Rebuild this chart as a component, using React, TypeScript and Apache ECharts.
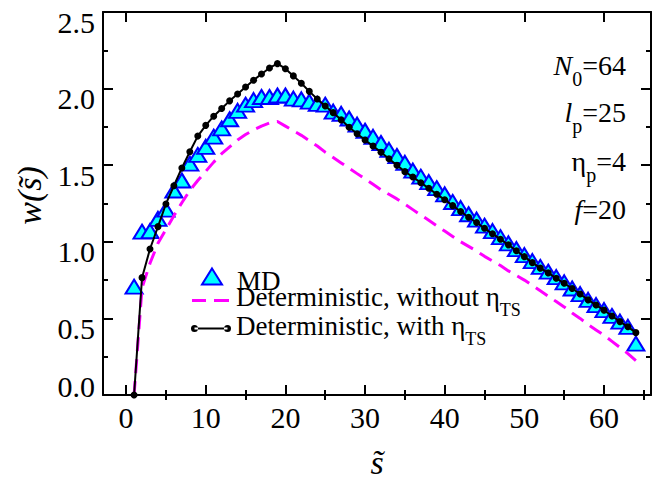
import React, { useEffect, useRef } from "react";
import * as echarts from "echarts";

const FONT = "Liberation Serif, Times New Roman, serif";

// s (x values)
const S = [
  1, 2, 3, 4, 5, 6, 7, 8, 9, 10, 11, 12, 13, 14, 15, 16, 17, 18, 19, 20,
  21, 22, 23, 24, 25, 26, 27, 28, 29, 30, 31, 32, 33, 34, 35, 36, 37, 38, 39, 40,
  41, 42, 43, 44, 45, 46, 47, 48, 49, 50, 51, 52, 53, 54, 55, 56, 57, 58, 59, 60,
  61, 62, 63, 64,
];

// MD (triangles)
const MD = [
  0.707, 1.066, 1.07, 1.15, 1.21, 1.335, 1.4, 1.51, 1.567, 1.62,
  1.686, 1.74, 1.8, 1.855, 1.895, 1.925, 1.945, 1.945, 1.955, 1.955,
  1.935, 1.93, 1.915, 1.9, 1.895, 1.85, 1.835, 1.805, 1.765, 1.725,
  1.685, 1.645, 1.6, 1.56, 1.515, 1.465, 1.425, 1.39, 1.35, 1.31,
  1.26, 1.22, 1.18, 1.145, 1.105, 1.07, 1.03, 0.99, 0.952, 0.913,
  0.874, 0.836, 0.805, 0.77, 0.735, 0.695, 0.659, 0.621, 0.587, 0.554,
  0.516, 0.479, 0.445, 0.335,
];

// Deterministic, without eta_TS (magenta dashed)
const DET_NO = [
  0, 0.7, 0.86, 0.99, 1.08, 1.17, 1.255, 1.335, 1.4, 1.46,
  1.52, 1.575, 1.62, 1.665, 1.7, 1.73, 1.755, 1.775, 1.785, 1.755,
  1.725, 1.695, 1.66, 1.625, 1.585, 1.55, 1.515, 1.48, 1.445, 1.41,
  1.375, 1.34, 1.31, 1.28, 1.245, 1.21, 1.175, 1.14, 1.105, 1.07,
  1.035, 1.0, 0.97, 0.94, 0.905, 0.875, 0.845, 0.81, 0.78, 0.75,
  0.715, 0.68, 0.645, 0.61, 0.575, 0.535, 0.5, 0.46, 0.425, 0.39,
  0.35, 0.31, 0.27, 0.225,
];

// Deterministic, with eta_TS (black line + dots)
const DET_TS = [
  0, 0.766, 0.953, 1.099, 1.247, 1.366, 1.482, 1.588, 1.69, 1.76,
  1.82, 1.87, 1.92, 1.965, 2.01, 2.055, 2.095, 2.135, 2.163, 2.13,
  2.083, 2.035, 1.982, 1.932, 1.886, 1.843, 1.796, 1.748, 1.705, 1.664,
  1.625, 1.584, 1.542, 1.5, 1.458, 1.423, 1.386, 1.349, 1.31, 1.275,
  1.236, 1.198, 1.16, 1.126, 1.088, 1.052, 1.017, 0.98, 0.942, 0.903,
  0.864, 0.828, 0.797, 0.762, 0.729, 0.695, 0.659, 0.621, 0.587, 0.554,
  0.516, 0.479, 0.445, 0.407,
];

const X_MAJOR = [0, 10, 20, 30, 40, 50, 60];
const X_MINOR = [5, 15, 25, 35, 45, 55, 65];

const NAME_MD = "MD";
const NAME_NO = "Deterministic, without \u03b7TS";
const NAME_TS = "Deterministic, with \u03b7TS";

const LEGEND_LABELS: Record<string, string> = {
  [NAME_MD]: "MD",
  [NAME_NO]: "Deterministic, without \u03b7{sub|TS}",
  [NAME_TS]: "Deterministic, with \u03b7{sub|TS}",
};

const X_MIN = -2.9;
const X_MAX = 65.9;
const TICK_FONT = 30;

export default function App() {
  const ref = useRef<HTMLDivElement>(null);

  useEffect(() => {
    if (!ref.current) return;
    const chart = echarts.init(ref.current, null, { renderer: "svg" });

    const pair = (ys: number[]) => S.map((s, i) => [s, ys[i]]);
    const black = "#000";

    const xCommon = {
      type: "value",
      min: X_MIN,
      max: X_MAX,
      splitLine: { show: false },
      axisLine: { show: true, onZero: false, lineStyle: { color: black, width: 2 } },
    };

    const legendText = {
      fontFamily: FONT,
      fontSize: 27,
      color: black,
      rich: {
        sub: { fontFamily: FONT, fontSize: 18, color: black, padding: [26, 0, 0, 0] },
      },
    };

    const annRich = {
      i: { fontFamily: FONT, fontSize: 28, fontStyle: "italic", color: black },
      n: { fontFamily: FONT, fontSize: 28, color: black },
      sub: { fontFamily: FONT, fontSize: 20, padding: [28, 0, 0, 0], color: black },
    };

    const ann = (text: string, y: number) => ({
      type: "text",
      x: 626,
      y,
      style: {
        text,
        align: "right",
        verticalAlign: "middle",
        fill: black,
        fontFamily: FONT,
        fontSize: 28,
        rich: annRich,
      },
    });

    const option: any = {
      animation: false,
      backgroundColor: "#fff",
      textStyle: { fontFamily: FONT },
      grid: { left: 103, top: 12, right: 3, bottom: 96, containLabel: false },
      xAxis: [
        {
          ...xCommon,
          position: "bottom",
          axisTick: {
            show: true,
            inside: true,
            length: 10,
            customValues: X_MAJOR,
            lineStyle: { color: black, width: 2 },
          },
          axisLabel: {
            customValues: X_MAJOR,
            fontFamily: FONT,
            fontSize: TICK_FONT,
            color: black,
            margin: 7,
          },
          name: "s\u0303",
          nameLocation: "middle",
          nameGap: 50,
          nameTextStyle: {
            fontFamily: FONT,
            fontSize: 34,
            fontStyle: "italic",
            color: black,
          },
        },
        {
          ...xCommon,
          position: "bottom",
          axisLine: { show: false },
          axisTick: {
            show: true,
            inside: true,
            length: 5,
            customValues: X_MINOR,
            lineStyle: { color: black, width: 2 },
          },
          axisLabel: { show: false },
        },
        {
          ...xCommon,
          position: "top",
          axisTick: {
            show: true,
            inside: true,
            length: 10,
            customValues: X_MAJOR,
            lineStyle: { color: black, width: 2 },
          },
          axisLabel: { show: false },
        },
        {
          ...xCommon,
          position: "top",
          axisLine: { show: false },
          axisTick: {
            show: true,
            inside: true,
            length: 5,
            customValues: X_MINOR,
            lineStyle: { color: black, width: 2 },
          },
          axisLabel: { show: false },
        },
      ],
      yAxis: [
        {
          type: "value",
          position: "left",
          min: 0,
          max: 2.5,
          interval: 0.5,
          splitLine: { show: false },
          axisLine: { show: true, onZero: false, lineStyle: { color: black, width: 2 } },
          axisTick: { show: true, inside: true, length: 10, lineStyle: { color: black, width: 2 } },
          minorTick: { show: true, splitNumber: 2, length: 5, lineStyle: { color: black, width: 2 } },
          axisLabel: {
            margin: 8,
            fontFamily: FONT,
            fontSize: TICK_FONT,
            color: black,
            formatter: (v: number) =>
              v === 0 ? `{z|${v.toFixed(1)}}` : `{n|${v.toFixed(1)}}`,
            rich: {
              z: { fontFamily: FONT, fontSize: TICK_FONT, color: black, padding: [0, 0, 18, 0] },
              n: { fontFamily: FONT, fontSize: TICK_FONT, color: black, padding: [20, 0, 0, 0] },
            },
          },
          name: "w(s\u0303)",
          nameLocation: "middle",
          nameGap: 54,
          nameTextStyle: {
            fontFamily: FONT,
            fontSize: 34,
            fontStyle: "italic",
            color: black,
            padding: [0, 0, 0, 16],
          },
        },
        {
          type: "value",
          position: "right",
          min: 0,
          max: 2.5,
          interval: 0.5,
          splitLine: { show: false },
          axisLine: { show: true, onZero: false, lineStyle: { color: black, width: 2 } },
          axisTick: { show: true, inside: true, length: 10, lineStyle: { color: black, width: 2 } },
          minorTick: { show: true, splitNumber: 2, length: 5, lineStyle: { color: black, width: 2 } },
          axisLabel: { show: false },
        },
      ],
      legend: [
        {
          data: [
            {
              name: NAME_MD,
              icon:
                "path://M20,0 L30,16 L10,16 Z M0,24 L0,24 Z M40,24 L40,24 Z M0,0 L0,0 Z",
            },
          ],
          orient: "vertical",
          left: 191,
          top: 267,
          padding: 0,
          itemWidth: 40,
          itemHeight: 24,
          selectedMode: false,
          formatter: (n: string) => LEGEND_LABELS[n],
          textStyle: legendText,
        },
        {
          data: [
            {
              name: NAME_NO,
              icon:
                "path://M0,-8 L0,-8 Z M40,-8 L40,-8 Z M1,0 L15,0 L15,3 L1,3 Z M23,0 L38,0 L38,3 L23,3 Z",
            },
          ],
          orient: "vertical",
          left: 191,
          top: 283,
          padding: 0,
          itemWidth: 40,
          itemHeight: 11,
          selectedMode: false,
          itemStyle: { borderWidth: 0 },
          formatter: (n: string) => LEGEND_LABELS[n],
          textStyle: legendText,
        },
        {
          data: [
            {
              name: NAME_TS,
              icon:
                "path://M0,-5.5 L0,-5.5 Z M3.5,3 L36.5,3 L36.5,5 L3.5,5 Z M0,4 A3.5,3.5 0 1,0 7,4 A3.5,3.5 0 1,0 0,4 Z M33,4 A3.5,3.5 0 1,0 40,4 A3.5,3.5 0 1,0 33,4 Z",
            },
          ],
          orient: "vertical",
          left: 191,
          top: 312,
          padding: 0,
          itemWidth: 40,
          itemHeight: 13,
          selectedMode: false,
          itemStyle: { borderWidth: 0 },
          formatter: (n: string) => LEGEND_LABELS[n],
          textStyle: legendText,
        },
      ],
      graphic: [
        ann("{i|N}{sub|0}{n|=64}", 65),
        ann("{i|l}{sub|p}{n|=25}", 112),
        ann("{n|\u03b7}{sub|p}{n|=4}", 161),
        ann("{i|f}{n|=20}", 209),
      ],
      series: [
        {
          name: NAME_MD,
          type: "scatter",
          xAxisIndex: 0,
          yAxisIndex: 0,
          data: pair(MD),
          symbol: "triangle",
          symbolSize: [17, 14],
          itemStyle: { color: "#00ffff", borderColor: "#0000ff", borderWidth: 2, opacity: 1 },
          z: 2,
        },
        {
          name: NAME_NO,
          type: "line",
          xAxisIndex: 0,
          yAxisIndex: 0,
          data: pair(DET_NO),
          symbol: "none",
          lineStyle: { color: "#ff00ff", width: 3, type: [14, 8] },
          itemStyle: { color: "#ff00ff" },
          z: 3,
        },
        {
          name: NAME_TS,
          type: "line",
          xAxisIndex: 0,
          yAxisIndex: 0,
          data: pair(DET_TS),
          symbol: "circle",
          symbolSize: 7,
          showSymbol: true,
          lineStyle: { color: black, width: 2 },
          itemStyle: { color: black, borderWidth: 0 },
          z: 4,
        },
      ],
    };

    chart.setOption(option);
    return () => chart.dispose();
  }, []);

  return (
    <div
      ref={ref}
      style={{ position: "absolute", left: 0, top: 0, width: 654, height: 491 }}
    />
  );
}
